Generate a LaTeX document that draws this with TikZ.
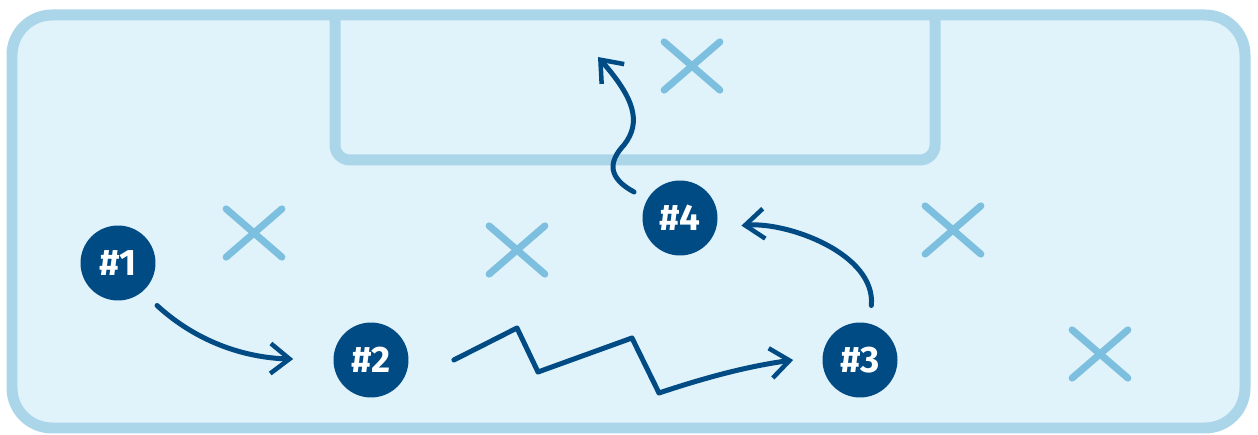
\documentclass[tikz,border=0pt]{standalone}
\usepackage{fontspec}
\setmainfont{Fira Sans}
\usetikzlibrary{arrows.meta}

\definecolor{fieldfill}{HTML}{E0F2FA}
\definecolor{fieldline}{HTML}{ABD6EA}
\definecolor{playerblue}{HTML}{014B85}
\definecolor{crossblue}{HTML}{7DBFDF}

\begin{document}
\begin{tikzpicture}[
		x=0.02cm, y=-0.02cm,
		field/.style={draw=fieldline, fill=fieldfill, line width=0.22cm, rounded corners=0.8cm},
		goalbox/.style={draw=fieldline, line width=0.22cm, rounded corners=0.3cm},
		player/.style={circle, fill=playerblue, text=white, minimum size=1.5cm, inner sep=0pt, font=\fontsize{21}{24}\selectfont\bfseries},
		defender/.style={minimum width=1.1cm, minimum height=0.95cm, inner sep=0pt},
		cross/.style={draw=crossblue, line width=0.14cm, line cap=round},
		move/.style={draw=playerblue, line width=0.1cm, line cap=round, line join=round, -{Straight Barb[length=0.38cm, width=0.6cm, line width=0.09cm]}}
		]
		\useasboundingbox (0,0) rectangle (1258,435);
		
		% Field
		\path[field] (12,15) rectangle (1245,428);
		\draw[goalbox] (335,20) -- (335,160) -- (935,160) -- (935,20);
		
		% Nodes
		\node (p1) [player] at (118,263) {\#1};
		\node (p2) [player] at (371,360) {\#2};
		\node (p3) [player] at (860,360) {\#3};
		\node (p4) [player] at (680,218) {\#4};
		
		\node (x1) [defender] at (254,233) {};
		\node (x2) [defender] at (517,250) {};
		\node (x3) [defender] at (692,66) {};
		\node (x4) [defender] at (953,230) {};
		\node (x5) [defender] at (1100,354) {};
		\coordinate (goal) at (598,57);
		
		\foreach \n in {x1,x2,x3,x4,x5}
		\draw[cross] (\n.south west) -- (\n.north east) (\n.north west) -- (\n.south east);
		
		% Arrows
		\draw [move, shorten <=0.4cm, shorten >=0.8cm] (p1.-50) .. controls (200,345) and (250,358) .. (p2.west);
		\draw [move] ([xshift=0.9cm]p2.east) -- (517,328) -- (538,372) -- (632,338) -- (659,393) .. controls (710,376) and (750,366) .. ([xshift=-0.58cm]p3.west);
		\draw [move, shorten <=0.36cm, shorten >=0.5cm] (p3.75) to[out=85, in=5] (p4.-15);
		\draw [move, shorten <=0.3cm] (p4.150) .. controls (608,178) and (608,162) .. (624,145) .. controls (642,122) and (634,98) .. (goal);
		
	\end{tikzpicture}
\end{document}
